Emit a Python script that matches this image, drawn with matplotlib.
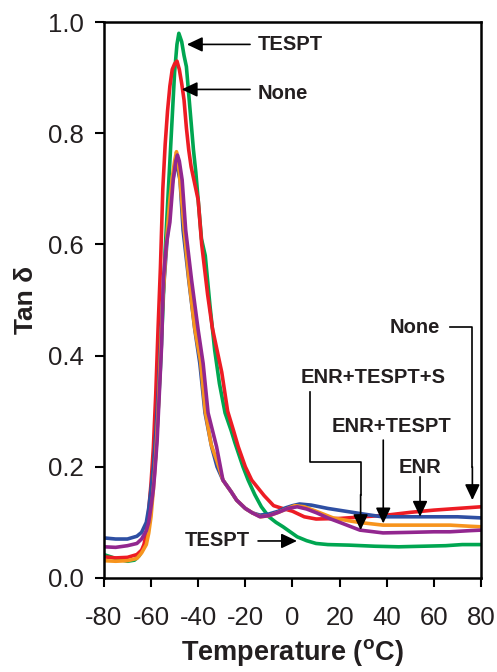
import numpy as np
import matplotlib.pyplot as plt

plt.rcParams['font.family'] = ['Liberation Sans', 'DejaVu Sans']
plt.rcParams['mathtext.default'] = 'regular'
plt.rcParams['axes.unicode_minus'] = False

# tan delta curves (temperature in C, tan delta)
none_t = [-80, -75, -70, -66, -64, -63, -62, -61, -60, -59, -58, -57, -56, -55, -54, -53, -52, -51, -50, -49,
          -48, -47, -46, -45, -44, -43, -42, -40, -38.5, -36, -34, -32, -30, -27.5, -25, -23, -20, -17.3, -12,
          -8, -5, 0, 5, 10, 20, 30, 40, 50, 60, 70, 80]
none_v = [0.038, 0.036, 0.037, 0.042, 0.050, 0.060, 0.080, 0.12, 0.17, 0.235, 0.33, 0.45, 0.56, 0.70, 0.78, 0.84,
          0.885, 0.915, 0.925, 0.93, 0.915, 0.89, 0.86, 0.81, 0.77, 0.74, 0.72, 0.68, 0.60, 0.51, 0.45, 0.41, 0.37,
          0.30, 0.265, 0.236, 0.20, 0.176, 0.148, 0.13, 0.126, 0.12, 0.11, 0.106, 0.107, 0.11, 0.113, 0.118,
          0.122, 0.125, 0.128]

tespt_t = [-80, -75, -70, -67, -65, -63, -62, -61, -60, -59, -58, -57, -56, -55, -54, -53, -52, -51, -50, -49,
           -48.2, -47, -46, -45, -44, -43, -42, -41, -40, -38.6, -37, -35, -33, -31, -28.6, -26, -24.4, -21, -18.8,
           -16, -13.2, -10, -7, -4, 0, 2, 6, 10, 15, 24, 35, 45, 55, 65, 72, 80]
tespt_v = [0.042, 0.035, 0.030, 0.032, 0.040, 0.055, 0.07, 0.10, 0.13, 0.18, 0.22, 0.30, 0.38, 0.48, 0.59, 0.67,
           0.75, 0.83, 0.91, 0.96, 0.98, 0.965, 0.94, 0.92, 0.87, 0.82, 0.77, 0.73, 0.68, 0.61, 0.58, 0.49, 0.41,
           0.35, 0.297, 0.265, 0.243, 0.20, 0.176, 0.15, 0.128, 0.11, 0.10, 0.092, 0.08, 0.074, 0.067, 0.062,
           0.060, 0.059, 0.057, 0.056, 0.057, 0.058, 0.060, 0.060]

enr_t = [-80, -75, -70, -66, -64, -62, -61, -60, -59, -58, -57, -56, -55, -54, -53, -52, -51, -50, -49.2, -47.7,
         -46.4, -44, -41.4, -39.3, -37.1, -34.3, -32, -29.5, -26, -23.7, -20, -17, -13.8, -10, -6, -3, 0, 3, 8, 15,
         24, 30, 38, 50, 60, 70, 80]
enr_v = [0.072, 0.070, 0.070, 0.075, 0.082, 0.10, 0.125, 0.16, 0.20, 0.26, 0.33, 0.42, 0.50, 0.56, 0.62, 0.67,
         0.71, 0.735, 0.746, 0.716, 0.626, 0.536, 0.446, 0.386, 0.297, 0.236, 0.20, 0.176, 0.155, 0.14, 0.125,
         0.117, 0.113, 0.115, 0.12, 0.126, 0.13, 0.133, 0.131, 0.125, 0.119, 0.115, 0.11, 0.11, 0.11, 0.11, 0.108]

enr_tespt_t = [-80, -75, -70, -66, -64, -62, -61, -60, -59, -58, -57, -56, -55, -54, -53, -52, -51, -50, -49.2,
               -48, -47, -46, -44, -41.5, -39, -37, -34.5, -32, -29.5, -26, -23.7, -20, -17, -13.5, -10, -6, -2, 1,
               5, 10, 17.2, 25, 30, 38.4, 50, 60, 66.8, 75, 80]
enr_tespt_v = [0.031, 0.030, 0.031, 0.035, 0.045, 0.06, 0.08, 0.11, 0.16, 0.22, 0.30, 0.40, 0.50, 0.57, 0.63, 0.68,
               0.72, 0.75, 0.767, 0.73, 0.68, 0.63, 0.54, 0.45, 0.39, 0.30, 0.24, 0.21, 0.176, 0.155, 0.14, 0.125,
               0.117, 0.11, 0.112, 0.118, 0.125, 0.13, 0.128, 0.12, 0.108, 0.102, 0.099, 0.095, 0.095, 0.095,
               0.095, 0.093, 0.092]

enr_tespt_s_t = [-80, -75, -70, -66, -64, -62, -61, -60, -59, -58.4, -57.4, -56.5, -55.5, -54.8, -53.5, -52, -50.6,
                 -49.5, -48.8, -48, -46.8, -45.3, -42.8, -40, -37.9, -35.8, -32.2, -29.5, -26, -23.7, -20, -17,
                 -13.8, -10, -6, -2, 2, 6, 10.3, 15, 20, 28.6, 38.4, 50, 60, 66.8, 75, 80]
enr_tespt_s_v = [0.056, 0.055, 0.058, 0.062, 0.070, 0.085, 0.10, 0.128, 0.16, 0.189, 0.248, 0.33, 0.42, 0.536,
                 0.60, 0.64, 0.716, 0.75, 0.761, 0.75, 0.716, 0.626, 0.536, 0.446, 0.386, 0.297, 0.236, 0.176,
                 0.155, 0.14, 0.125, 0.117, 0.11, 0.112, 0.118, 0.125, 0.128, 0.124, 0.117, 0.108, 0.10, 0.086,
                 0.081, 0.082, 0.083, 0.083, 0.085, 0.086]

ink = '#231f20'

fig = plt.figure(figsize=(4.97, 6.72), dpi=100)
ax = fig.add_axes([0.209, 0.140, 0.759, 0.827])

lw = 2.6
ax.plot(tespt_t, tespt_v, color='#00a651', lw=lw)
ax.plot(none_t, none_v, color='#ed1c24', lw=lw)
ax.plot(enr_t, enr_v, color='#2e4fa3', lw=lw)
ax.plot(enr_tespt_t, enr_tespt_v, color='#f7941d', lw=lw)
ax.plot(enr_tespt_s_t, enr_tespt_s_v, color='#92278f', lw=lw)

ax.set_xlim(-80, 80)
ax.set_ylim(0, 1.0)
ax.set_xticks(np.arange(-80, 81, 20))
ax.set_yticks(np.arange(0, 1.01, 0.2))
ax.set_yticklabels(['0.0', '0.2', '0.4', '0.6', '0.8', '1.0'])
ax.tick_params(direction='out', length=6.5, width=1.5, labelsize=18.5, labelcolor=ink)
ax.tick_params(axis='x', pad=14)
ax.tick_params(axis='y', pad=8)
for s in ax.spines.values():
    s.set_linewidth(1.8)

ax.set_xlabel('Temperature ($^{o}$C)', fontsize=19.5, fontweight='bold', labelpad=5, color=ink)
ax.set_ylabel('Tan δ', fontsize=19, fontweight='bold', labelpad=7, color=ink)

arw = dict(arrowstyle='-|>,head_length=0.95,head_width=0.45', color='black', lw=1.2, shrinkA=0, shrinkB=0)
fs = 14.5
tkw = dict(fontsize=fs, fontweight='bold', color=ink, va='center')

# straight arrows
ax.annotate('', xy=(-44.8, 0.96), xytext=(-18.0, 0.96), arrowprops=arw)
ax.text(-14.6, 0.96, 'TESPT', ha='left', **tkw)
ax.annotate('', xy=(-47.0, 0.879), xytext=(-18.0, 0.879), arrowprops=arw)
ax.text(-14.6, 0.872, 'None', ha='left', **tkw)
ax.annotate('', xy=(1.9, 0.0665), xytext=(-14.6, 0.0665), arrowprops=arw)
ax.text(-18.0, 0.0665, 'TESPT', ha='right', **tkw)

# ENR and ENR+TESPT
ax.annotate('', xy=(54.1, 0.110), xytext=(54.1, 0.182), arrowprops=arw)
ax.text(54.1, 0.198, 'ENR', ha='center', **tkw)
ax.annotate('', xy=(38.5, 0.098), xytext=(38.5, 0.248), arrowprops=arw)
ax.text(42.2, 0.272, 'ENR+TESPT', ha='center', **tkw)

# elbow leaders
ax.plot([7.4, 7.4, 28.9, 28.9], [0.335, 0.209, 0.209, 0.15], color='black', lw=1.2)
ax.annotate('', xy=(28.9, 0.086), xytext=(28.9, 0.15), arrowprops=arw)
ax.text(34.2, 0.36, 'ENR+TESPT+S', ha='center', **tkw)
ax.plot([66.8, 76.3, 76.3], [0.451, 0.451, 0.2], color='black', lw=1.2)
ax.annotate('', xy=(76.3, 0.140), xytext=(76.3, 0.2), arrowprops=arw)
ax.text(62.6, 0.451, 'None', ha='right', **tkw)

fig.savefig('out.png', dpi=100)
